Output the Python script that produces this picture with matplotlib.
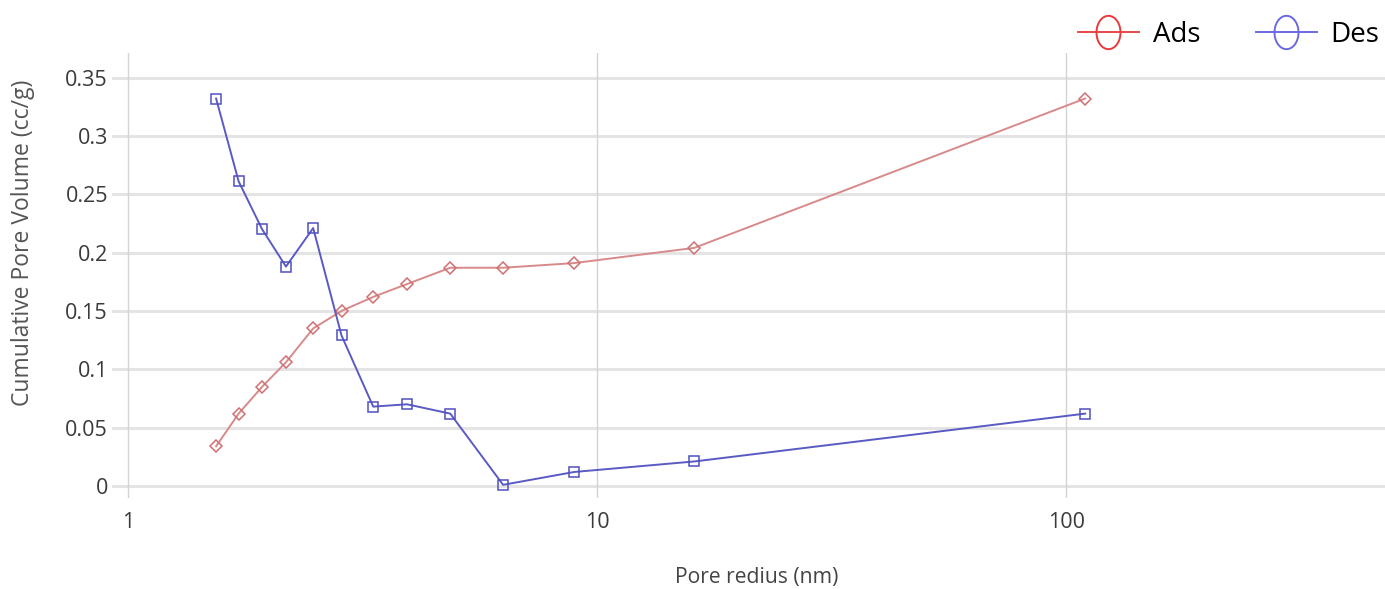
import numpy as np
import matplotlib
matplotlib.use("Agg")
import matplotlib.pyplot as plt
from matplotlib.lines import Line2D
from matplotlib.path import Path

# pore radius (nm)
radius = [1.54, 1.72, 1.93, 2.17, 2.48, 2.85, 3.33, 3.93, 4.86, 6.30, 8.93, 16.1, 109.7]
# cumulative pore volume (cc/g)
ads = [0.034, 0.062, 0.085, 0.106, 0.135, 0.150, 0.162, 0.173, 0.187, 0.187, 0.191, 0.204, 0.332]
des = [0.332, 0.261, 0.220, 0.188, 0.221, 0.129, 0.068, 0.070, 0.062, 0.001, 0.012, 0.021, 0.062]

y_ticks = [0, 0.05, 0.1, 0.15, 0.2, 0.25, 0.3, 0.35]
y_labels = ["0", "0.05", "0.1", "0.15", "0.2", "0.25", "0.3", "0.35"]
x_ticks = [1, 10, 100]
x_labels = ["1", "10", "100"]

plt.rcParams['font.family'] = ['Open Sans', 'DejaVu Sans']

fig = plt.figure(figsize=(13.85, 5.89), dpi=100)
ax = fig.add_axes([0.0809, 0.1545, 0.9191, 0.7555])

ax.set_xscale("log")
ax.set_xlim(0.924, 478)
ax.set_ylim(-0.0103, 0.371)

# grid: thick light horizontals, thin verticals
for y in y_ticks:
    ax.axhline(y, color="#e4e4e4", lw=2.2, zorder=0)
for x in x_ticks:
    ax.axvline(x, color="#d4d4d4", lw=1.0, zorder=0)

ax.plot(radius, ads, color="#d88a8a", lw=1.4, marker="D", ms=6.5,
        mfc="none", mec="#d07070", mew=1.1, zorder=3)
ax.plot(radius, des, color="#5a5ac4", lw=1.4, marker="s", ms=7,
        mfc="none", mec="#5050c0", mew=1.1, zorder=3)

ax.set_xticks(x_ticks)
ax.set_xticklabels(x_labels)
ax.set_yticks(y_ticks)
ax.set_yticklabels(y_labels)
ax.minorticks_off()
ax.tick_params(axis="both", length=0, labelsize=15.5, colors="#3a3a3a")
ax.tick_params(axis="x", pad=10)
ax.tick_params(axis="y", pad=3)
for s in ax.spines.values():
    s.set_visible(False)

fig.text(23 / 1385, 1 - 243 / 589, "Cumulative Pore Volume (cc/g)", rotation=90,
         ha="center", va="center", fontsize=16.5, color="#555555")
fig.text(757 / 1385, 1 - 577 / 589, "Pore redius (nm)", ha="center", va="center",
         fontsize=15.2, color="#444444")

# tall ellipse marker for the legend
t = np.linspace(0, 2 * np.pi, 60)
ellipse = Path(np.column_stack([0.72 * np.cos(t), np.sin(t)]), closed=True)

handles = [
    Line2D([], [], color="#e84848", lw=1.4, marker=ellipse, ms=24, mfc="none", mec="#e83a3a", mew=1.4),
    Line2D([], [], color="#6a6ae0", lw=1.4, marker=ellipse, ms=24, mfc="none", mec="#6a6ae0", mew=1.4),
]
fig.legend(handles, ["Ads", "Des"], loc="center right", bbox_to_anchor=(1.0, 1 - 35 / 589),
           ncol=2, frameon=False, fontsize=20, handlelength=2.2, columnspacing=2.0,
           handletextpad=0.5, borderaxespad=0.0, borderpad=0.2)

fig.savefig("out.png", dpi=100)
